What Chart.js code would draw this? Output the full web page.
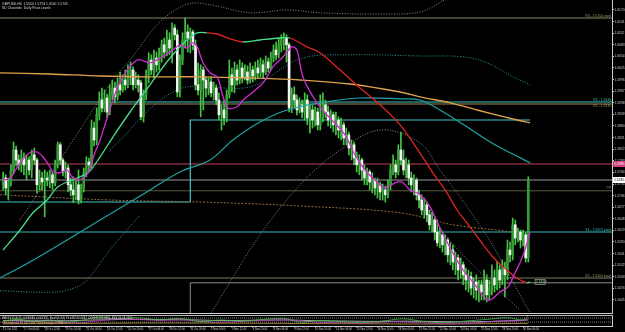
<!DOCTYPE html>
<html>
<head>
<meta charset="utf-8">
<title>GBPUSD,H4</title>
<script src="https://cdn.jsdelivr.net/npm/chart.js@4.4.1/dist/chart.umd.min.js"></script>
<style>
    html, body { margin: 0; padding: 0; background: #000; }
    #wrap { position: relative; width: 625px; height: 332px; background: #000; overflow: hidden; }
    #mainBox { position: absolute; left: 0; top: 0; width: 625px; height: 314px; }
    #indBox { position: absolute; left: 0; top: 314px; width: 625px; height: 18px; }
</style>
</head>
<body>
<div id="wrap">
    <div id="mainBox"><canvas id="mainChart" width="625" height="314"></canvas></div>
    <div id="indBox"><canvas id="indChart" width="625" height="18"></canvas></div>
</div>
<script>
// ---- data ----

// time axis labels, one every 8 H4 bars
const timeLabels = [
    '13 Oct 2011', '17 Oct 04:00', '18 Oct 12:00', '19 Oct 20:00', '21 Oct 04:00', '24 Oct 12:00',
    '25 Oct 20:00', '27 Oct 04:00', '28 Oct 12:00', '31 Oct 20:00', '2 Nov 04:00', '3 Nov 12:00',
    '4 Nov 20:00', '8 Nov 04:00', '9 Nov 12:00', '10 Nov 20:00', '14 Nov 04:00', '15 Nov 12:00',
    '16 Nov 20:00', '18 Nov 04:00', '21 Nov 12:00', '22 Nov 20:00', '24 Nov 04:00', '25 Nov 12:00',
    '28 Nov 20:00', '30 Nov 04:00'
];

// price axis labels
const priceTicks = [
    1.6170, 1.6141, 1.6112, 1.6083, 1.6054, 1.6025, 1.5996, 1.5967, 1.5938, 1.5909,
    1.5880, 1.5851, 1.5822, 1.5793, 1.5764, 1.5735, 1.5706, 1.5677, 1.5648, 1.5619,
    1.5590, 1.5561, 1.5532, 1.5503, 1.5474, 1.5445
];

// H4 candles: [open, high, low, close]
const candles = [
    [1.5733,1.5765,1.5720,1.5750],[1.5750,1.5758,1.5708,1.5725],[1.5725,1.5750,1.5695,1.5740],[1.5740,1.5783,1.5730,1.5770],
    [1.5770,1.5840,1.5760,1.5820],[1.5820,1.5830,1.5780,1.5795],[1.5795,1.5808,1.5770,1.5783],[1.5783,1.5820,1.5765,1.5800],
    [1.5800,1.5813,1.5758,1.5783],[1.5783,1.5808,1.5745,1.5795],[1.5795,1.5803,1.5758,1.5770],[1.5770,1.5820,1.5750,1.5808],
    [1.5808,1.5825,1.5783,1.5795],[1.5795,1.5800,1.5713,1.5733],[1.5733,1.5770,1.5720,1.5750],[1.5750,1.5765,1.5720,1.5740],
    [1.5740,1.5770,1.5653,1.5750],[1.5750,1.5765,1.5730,1.5745],[1.5745,1.5770,1.5725,1.5758],[1.5758,1.5765,1.5720,1.5738],
    [1.5738,1.5795,1.5730,1.5783],[1.5783,1.5840,1.5775,1.5833],[1.5833,1.5838,1.5783,1.5795],[1.5795,1.5800,1.5755,1.5765],
    [1.5765,1.5790,1.5750,1.5775],[1.5775,1.5783,1.5715,1.5733],[1.5733,1.5750,1.5705,1.5720],[1.5720,1.5753,1.5688,1.5708],
    [1.5708,1.5745,1.5695,1.5733],[1.5733,1.5770,1.5685,1.5695],[1.5695,1.5735,1.5688,1.5725],[1.5725,1.5775,1.5715,1.5765],
    [1.5765,1.5803,1.5753,1.5790],[1.5790,1.5800,1.5765,1.5783],[1.5783,1.5895,1.5775,1.5875],[1.5875,1.5890,1.5830,1.5845],
    [1.5845,1.5925,1.5833,1.5908],[1.5908,1.5965,1.5895,1.5945],[1.5945,1.5975,1.5915,1.5925],[1.5925,1.5970,1.5915,1.5950],
    [1.5950,1.5960,1.5900,1.5915],[1.5915,1.5983,1.5908,1.5958],[1.5958,1.5995,1.5945,1.5975],[1.5975,1.5990,1.5938,1.5953],
    [1.5953,1.6000,1.5945,1.5983],[1.5983,1.6015,1.5958,1.5970],[1.5970,1.6008,1.5965,1.5995],[1.5995,1.6020,1.5970,1.5983],
    [1.5983,1.6033,1.5975,1.6008],[1.6008,1.6040,1.5983,1.6020],[1.6020,1.6028,1.5970,1.5983],[1.5983,1.6015,1.5975,1.5995],
    [1.5995,1.6008,1.5965,1.5983],[1.5988,1.5995,1.5895,1.5903],[1.5903,1.5970,1.5890,1.5958],[1.5958,1.6020,1.5945,1.6008],
    [1.6008,1.6063,1.5988,1.6045],[1.6045,1.6058,1.6008,1.6020],[1.6020,1.6070,1.6000,1.6050],[1.6050,1.6065,1.6015,1.6033],
    [1.6033,1.6075,1.6020,1.6058],[1.6058,1.6095,1.6040,1.6083],[1.6083,1.6100,1.6050,1.6065],[1.6065,1.6120,1.6055,1.6095],
    [1.6095,1.6113,1.6058,1.6075],[1.6075,1.6138,1.6038,1.6125],[1.6125,1.6133,1.6095,1.6108],[1.6108,1.6120,1.5953,1.5965],
    [1.5965,1.6058,1.5953,1.6045],[1.6045,1.6113,1.6033,1.6095],[1.6095,1.6150,1.6075,1.6115],[1.6115,1.6133,1.6065,1.6100],
    [1.6100,1.6125,1.6063,1.6115],[1.6115,1.6120,1.6070,1.6083],[1.6083,1.6095,1.5970,1.5983],[1.5983,1.6038,1.5958,1.5970],
    [1.5970,1.6033,1.5903,1.6020],[1.6020,1.6028,1.5920,1.5995],[1.5995,1.6003,1.5953,1.5975],[1.5975,1.6000,1.5958,1.5990],
    [1.5990,1.6003,1.5953,1.5963],[1.5963,1.5990,1.5945,1.5975],[1.5975,1.5983,1.5933,1.5945],[1.5945,1.5963,1.5895,1.5908],
    [1.5908,1.5933,1.5870,1.5920],[1.5920,1.5945,1.5883,1.5900],[1.5900,1.5970,1.5890,1.5958],[1.5958,1.6045,1.5950,1.6008],
    [1.6008,1.6025,1.5965,1.5983],[1.5983,1.6040,1.5963,1.6020],[1.6020,1.6033,1.5983,1.5995],[1.5995,1.6045,1.5985,1.6025],
    [1.6025,1.6038,1.5988,1.6000],[1.6000,1.6033,1.5995,1.6015],[1.6015,1.6030,1.5985,1.5995],[1.5995,1.6038,1.5988,1.6020],
    [1.6020,1.6030,1.5990,1.6005],[1.6005,1.6040,1.5995,1.6025],[1.6025,1.6045,1.6000,1.6013],[1.6013,1.6050,1.6003,1.6033],
    [1.6033,1.6045,1.6000,1.6015],[1.6015,1.6055,1.6008,1.6040],[1.6040,1.6050,1.6015,1.6025],[1.6025,1.6065,1.6020,1.6050],
    [1.6050,1.6083,1.6040,1.6070],[1.6070,1.6090,1.6045,1.6058],[1.6058,1.6100,1.6050,1.6083],[1.6083,1.6108,1.6065,1.6095],
    [1.6095,1.6113,1.6070,1.6100],[1.6100,1.6108,1.6040,1.6083],[1.6083,1.6088,1.5915,1.5925],[1.5925,1.5975,1.5913,1.5958],
    [1.5958,1.5978,1.5925,1.5945],[1.5945,1.5958,1.5908,1.5920],[1.5920,1.5950,1.5913,1.5933],[1.5933,1.5945,1.5900,1.5915],
    [1.5915,1.5963,1.5895,1.5945],[1.5945,1.5958,1.5883,1.5900],[1.5900,1.5933,1.5863,1.5920],[1.5920,1.5933,1.5875,1.5895],
    [1.5895,1.5928,1.5880,1.5915],[1.5915,1.5925,1.5870,1.5883],[1.5883,1.5958,1.5870,1.5900],[1.5900,1.5963,1.5890,1.5933],
    [1.5933,1.5945,1.5900,1.5915],[1.5915,1.5930,1.5880,1.5895],[1.5895,1.5920,1.5875,1.5908],[1.5908,1.5915,1.5865,1.5883],
    [1.5883,1.5915,1.5858,1.5895],[1.5895,1.5903,1.5850,1.5870],[1.5870,1.5900,1.5845,1.5883],[1.5883,1.5890,1.5833,1.5850],
    [1.5850,1.5875,1.5833,1.5858],[1.5858,1.5865,1.5808,1.5825],[1.5825,1.5845,1.5795,1.5833],[1.5833,1.5840,1.5783,1.5800],
    [1.5800,1.5815,1.5765,1.5783],[1.5783,1.5808,1.5758,1.5795],[1.5795,1.5800,1.5745,1.5770],[1.5770,1.5783,1.5733,1.5750],
    [1.5750,1.5775,1.5733,1.5765],[1.5765,1.5770,1.5720,1.5740],[1.5740,1.5763,1.5713,1.5745],[1.5745,1.5750,1.5708,1.5725],
    [1.5725,1.5750,1.5700,1.5733],[1.5733,1.5740,1.5695,1.5715],[1.5715,1.5735,1.5695,1.5720],[1.5720,1.5730,1.5690,1.5708],
    [1.5708,1.5745,1.5700,1.5733],[1.5733,1.5783,1.5720,1.5770],[1.5770,1.5808,1.5758,1.5783],[1.5783,1.5795,1.5750,1.5765],
    [1.5765,1.5833,1.5758,1.5820],[1.5820,1.5865,1.5783,1.5795],[1.5795,1.5820,1.5758,1.5770],[1.5770,1.5800,1.5750,1.5783],
    [1.5783,1.5795,1.5733,1.5750],[1.5750,1.5765,1.5715,1.5733],[1.5733,1.5758,1.5708,1.5745],[1.5745,1.5750,1.5695,1.5708],
    [1.5708,1.5720,1.5675,1.5695],[1.5695,1.5708,1.5658,1.5670],[1.5670,1.5700,1.5650,1.5683],[1.5683,1.5690,1.5640,1.5658],
    [1.5658,1.5670,1.5620,1.5633],[1.5633,1.5665,1.5615,1.5645],[1.5645,1.5650,1.5595,1.5615],[1.5615,1.5645,1.5580,1.5588],
    [1.5588,1.5625,1.5575,1.5608],[1.5608,1.5615,1.5565,1.5583],[1.5583,1.5608,1.5558,1.5595],[1.5595,1.5600,1.5540,1.5558],
    [1.5558,1.5588,1.5533,1.5570],[1.5570,1.5583,1.5520,1.5540],[1.5540,1.5565,1.5508,1.5550],[1.5550,1.5558,1.5495,1.5520],
    [1.5520,1.5550,1.5500,1.5533],[1.5533,1.5540,1.5483,1.5508],[1.5508,1.5525,1.5470,1.5495],[1.5495,1.5520,1.5465,1.5503],
    [1.5503,1.5515,1.5458,1.5475],[1.5475,1.5500,1.5450,1.5490],[1.5490,1.5508,1.5445,1.5470],[1.5470,1.5495,1.5440,1.5483],
    [1.5483,1.5495,1.5445,1.5465],[1.5465,1.5520,1.5445,1.5495],[1.5495,1.5508,1.5440,1.5458],[1.5458,1.5495,1.5445,1.5475],
    [1.5475,1.5533,1.5458,1.5500],[1.5500,1.5520,1.5465,1.5483],[1.5483,1.5540,1.5470,1.5520],[1.5520,1.5533,1.5475,1.5495],
    [1.5495,1.5545,1.5483,1.5525],[1.5525,1.5540,1.5453,1.5508],[1.5508,1.5595,1.5495,1.5570],[1.5570,1.5590,1.5540,1.5558],
    [1.5558,1.5650,1.5545,1.5633],[1.5633,1.5645,1.5583,1.5600],[1.5600,1.5625,1.5590,1.5615],[1.5615,1.5620,1.5575,1.5595],
    [1.5595,1.5620,1.5580,1.5608],[1.5608,1.5615,1.5540,1.5550],[1.5550,1.5753,1.5540,1.5745]
];

// indicator lines: [bar, price]
const fastMa = [
    [0,1.5745],[2.7,1.5750],[6.5,1.5788],[10.3,1.5813],[13,1.5815],[15.3,1.5803],[18,1.5778],[19.2,1.5765],
    [21.9,1.5763],[24.6,1.5770],[26.5,1.5753],[28.4,1.5745],[30.7,1.5750],[32.7,1.5763],[35.3,1.5813],[37.3,1.5845],
    [40,1.5900],[45,1.5990],[51.5,1.6045],[56.5,1.6038],[60.3,1.6050],[65.3,1.6070],[68,1.6083],[70.7,1.6075],
    [72.7,1.6088],[74.6,1.6078],[76.9,1.6038],[79.6,1.6013],[82.3,1.6003],[84.6,1.5953],[86.5,1.5925],[90,1.5928],
    [92.3,1.5945],[96.1,1.5965],[100,1.5988],[103.8,1.6028],[107.7,1.6053],[111.1,1.6078],[113,1.6070],[115.3,1.6003],
    [119.2,1.5953],[121.9,1.5928],[125.7,1.5900],[131.5,1.5858],[135.3,1.5808],[139.2,1.5770],[143,1.5745],[146.9,1.5725],
    [150.7,1.5738],[153.4,1.5740],[156.5,1.5720],[160.3,1.5708],[164.2,1.5678],[168,1.5625],[173,1.5563],[176.9,1.5520],
    [180.7,1.5490],[185.3,1.5450],[187.3,1.5445],[191.1,1.5465],[194.2,1.5478],[196.9,1.5513],[198.8,1.5538],[200.7,1.5570],
    [202.7,1.5615]
];
const trendMa = [
    [0,1.5570],[6.5,1.5620],[11.5,1.5663],[16.9,1.5695],[21.1,1.5728],[28.4,1.5750],[32.7,1.5763],[37.3,1.5803],
    [42.3,1.5853],[48.8,1.5915],[56.5,1.5983],[64.2,1.6050],[70.7,1.6095],[74.6,1.6113],[78.4,1.6113],[82.3,1.6110],
    [87.3,1.6098],[92.3,1.6090],[98.8,1.6095],[106.5,1.6100],[110.3,1.6100],[116.9,1.6078],[121.9,1.6063],[129.6,1.6020],
    [137.3,1.5975],[145,1.5933],[152.7,1.5883],[160.3,1.5813],[165.3,1.5763],[170.7,1.5713],[174.6,1.5670],[178.4,1.5638],
    [183.3,1.5595],[188.3,1.5553],[193.7,1.5520],[197.5,1.5500],[201.5,1.5488],[202.7,1.5490]
];
const slowMa = [
    [-1.2,1.6013],[18,1.6010],[37.3,1.6005],[56.5,1.6003],[75.7,1.6003],[95,1.6000],[114.2,1.5995],[133.4,1.5985],
    [152.7,1.5965],[160.3,1.5953],[171.9,1.5938],[182.3,1.5920],[197.7,1.5895],[202.7,1.5888]
];
const midMa = [
    [-1.2,1.5500],[10.3,1.5540],[24.6,1.5595],[37.3,1.5645],[52.7,1.5705],[68,1.5765],[79.6,1.5795],[88.4,1.5845],
    [98.8,1.5890],[109.2,1.5920],[121.9,1.5938],[137.3,1.5950],[152.7,1.5948],[160.3,1.5945],[168,1.5920],[178.4,1.5878],
    [187.3,1.5840],[195,1.5813],[202.7,1.5788]
];
const bandUpper = [
    [6.5,1.5645],[21.9,1.5795],[42.3,1.5995],[48.8,1.6045],[60.3,1.6140],[71.1,1.6185],[79.6,1.6183],[95,1.6163],
    [109.2,1.6170],[121.9,1.6163],[145,1.6160],[160.3,1.6165],[169.2,1.6193],[175.7,1.6220]
];
const bandMid = [
    [41.1,1.5820],[66.9,1.5970],[95,1.5978],[114.2,1.6048],[133.4,1.6058],[160.3,1.6055],[176.9,1.6053],[186.1,1.6038],
    [196.1,1.6003],[202.7,1.5983]
];
const bandLowA = [[-1.2,1.5468],[20.7,1.5465],[28.4,1.5478],[32.3,1.5495],[41.1,1.5570],[52.7,1.5658]];
const bandLowB = [
    [78.8,1.5400],[87.3,1.5490],[98.8,1.5608],[114.2,1.5733],[129.6,1.5820],[145,1.5870],[160.3,1.5838],[168,1.5770],
    [175.7,1.5703],[184.6,1.5620],[191.1,1.5550],[198.8,1.5458],[202.7,1.5413]
];
const bandLowC = [[164.2,1.5670],[170.7,1.5603],[183.3,1.5515],[198.8,1.5420]];
const envelope = [
    [-1.2,1.5708],[41.1,1.5695],[75.7,1.5690],[114.2,1.5680],[152.7,1.5663],[173,1.5633],[197.7,1.5613],[202.7,1.5600]
];

// horizontal levels and their captions
const levels = [1.6150, 1.5940, 1.5935, 1.5785, 1.5745, 1.5718, 1.5615, 1.5500];
const levelCaptions = ['R3 - 1.6150 pivot', 'R2 - 1.5940', 'R1 - 1.5935', '', '', 'PP', 'S1 - 1.5615 pivot', 'S2 - 1.5500 pivot'];
const dayLevels = [1.5690, 1.5895];   // level before / after the switch bar
const dayLevelSwitchBar = 72;
const rangeLow = 1.5488;

// lower oscillator panel (0..100)
const oscGreen = [
    [0,45],[6,60],[12,40],[18,55],[24,35],[30,50],[36,80],[44,65],[52,75],[60,55],[68,70],[76,40],[84,55],[92,45],
    [100,60],[108,70],[114,35],[122,50],[130,40],[138,30],[146,45],[154,65],[162,40],[170,30],[178,45],[186,60],
    [194,75],[200,55],[202,95]
];
const oscMagenta = [
    [0,30],[10,40],[20,35],[30,30],[40,55],[50,60],[60,50],[70,55],[80,35],[90,40],[100,50],[110,55],[120,35],
    [130,30],[140,25],[150,40],[160,30],[170,20],[180,25],[190,45],[200,50],[202,70]
];
const oscWhite = [
    [0,50],[12,52],[24,48],[36,55],[48,60],[60,58],[72,56],[84,50],[96,52],[108,55],[120,48],[132,45],[144,42],
    [156,44],[168,40],[180,38],[192,45],[202,55]
];
const oscOrange = [[0,20],[20,22],[40,25],[60,28],[80,26],[100,25],[120,22],[140,20],[160,18],[180,20],[202,24]];
const oscLevels = [72, 36];

const headerLines = ['GBPUSD,H4  1.5550 1.5753 1.5540 1.5745', 'SD Channels  Daily Pivot Levels'];
const oscCaptions = [
    'MACD(12,26,9) -0.000946 -0.001352  Stoch(5,3,3) 73.5412 61.2087  CCI(14) 112.4851  RSI(14) 58.2310',
    'SPC Indicator 30 2011 and TrendStrength 1.2934'
];

// ---- layout / style ----
const X_MIN = -1.2;
const X_MAX = 234.2;
const Y_MIN = 1.5410;
const Y_MAX = 1.6195;
const FONT = "'Liberation Sans', sans-serif";

const BULL_FILL = '#349c34';
const BEAR_FILL = '#f4f4f4';
const WICK = '#47c447';
const levelColors = ['#8a8a62', '#3fbfbf', '#a08455', '#c0405e', '#9a9a9a', '#5c5c44', '#3ab8b8', '#7c7c66'];
const levelTextColors = ['#9a9a6a', '#3fc4c4', '#a89060', '', '', '#8a8a60', '#3fc4c4', '#9a9a6a'];

function pts(list) {
    return list.map(p => ({ x: p[0], y: p[1] }));
}

function lineSet(list, color, width, dash, order) {
    return {
        type: 'line',
        data: pts(list),
        borderColor: color,
        borderWidth: width,
        borderDash: dash || [],
        pointRadius: 0,
        tension: 0.35,
        fill: false,
        order: order
    };
}

function flatLine(value, color, order) {
    return {
        type: 'line',
        data: [{ x: X_MIN, y: value }, { x: X_MAX, y: value }],
        borderColor: color,
        borderWidth: 1,
        pointRadius: 0,
        tension: 0,
        order: order
    };
}

// Text drawn on the main chart: header, level captions, price tags
const mainOverlay = {
    id: 'mainOverlay',
    afterDraw(chart) {
        const { ctx, chartArea, scales } = chart;
        const y = scales.y;
        const x = scales.x;
        ctx.save();

        ctx.font = '3.4px ' + FONT;
        ctx.fillStyle = '#d8d8d8';
        ctx.textBaseline = 'top';
        ctx.textAlign = 'left';
        ctx.fillText(headerLines[0], 2, 2.5);
        ctx.fillText(headerLines[1], 2, 6.5);

        // level captions at the right edge
        ctx.textAlign = 'right';
        levelCaptions.forEach((t, i) => {
            if (!t) return;
            ctx.fillStyle = levelTextColors[i];
            const py = y.getPixelForValue(levels[i]);
            if (i === 2) {
                ctx.textBaseline = 'top';
                ctx.fillText(t, chartArea.right - 1, py + 0.8);
            } else {
                ctx.textBaseline = 'bottom';
                ctx.fillText(t, chartArea.right - 1, py - 0.6);
            }
        });

        // price tags on the axis
        const tag = (value, bg, fg) => {
            const py = Math.round(y.getPixelForValue(value));
            ctx.fillStyle = bg;
            ctx.fillRect(chartArea.right + 1, py - 3, 12, 6);
            ctx.fillStyle = fg;
            ctx.textAlign = 'left';
            ctx.textBaseline = 'middle';
            ctx.fillText(value.toFixed(4), chartArea.right + 2, py);
        };
        tag(levels[3], '#d0407a', '#ffffff');
        tag(candles[candles.length - 1][3], '#ffffff', '#000000');

        // small value box at the end of the trend average
        const last = trendMa[trendMa.length - 1];
        const bx = x.getPixelForValue(last[0]) + 5;
        const by = y.getPixelForValue(last[1]);
        ctx.strokeStyle = '#7a9a7a';
        ctx.lineWidth = 0.8;
        ctx.strokeRect(bx, by - 2.5, 10, 5);
        ctx.fillStyle = '#9fd09f';
        ctx.textAlign = 'left';
        ctx.textBaseline = 'middle';
        ctx.fillText(last[1].toFixed(4), bx + 0.8, by);

        // separator under the price panel
        ctx.strokeStyle = '#cfcfcf';
        ctx.lineWidth = 1;
        ctx.beginPath();
        ctx.moveTo(0, chartArea.bottom - 0.5);
        ctx.lineTo(chartArea.right, chartArea.bottom - 0.5);
        ctx.stroke();
        ctx.restore();
    }
};

const oscOverlay = {
    id: 'oscOverlay',
    afterDraw(chart) {
        const { ctx, chartArea } = chart;
        ctx.save();
        ctx.strokeStyle = '#bdbdbd';
        ctx.lineWidth = 1;
        ctx.beginPath();
        ctx.moveTo(0, chartArea.top + 0.5);
        ctx.lineTo(chartArea.right, chartArea.top + 0.5);
        ctx.stroke();
        ctx.font = '2.8px ' + FONT;
        ctx.textBaseline = 'top';
        ctx.textAlign = 'left';
        ctx.fillStyle = '#d6d6d6';
        ctx.fillText(oscCaptions[0], 2, chartArea.top + 2);
        ctx.fillStyle = '#d8b060';
        ctx.fillText(oscCaptions[1], 2, chartArea.top + 6.5);
        ctx.restore();
    }
};

// ---- main price chart ----
const wickData = candles.map((c, i) => ({ x: i, y: [c[2], c[1]] }));
const bodyData = candles.map((c, i) => ({ x: i, y: [c[0], c[3]] }));
const bodyColors = candles.map(c => (c[3] >= c[0] ? BULL_FILL : BEAR_FILL));

const trendSet = lineSet(trendMa, '#45e08a', 1.3, null, 2);
trendSet.segment = {
    borderColor: ctx => (ctx.p1.parsed.y >= ctx.p0.parsed.y ? '#45e08a' : '#e02424')
};

new Chart(document.getElementById('mainChart').getContext('2d'), {
    type: 'bar',
    data: {
        datasets: [
            ...levels.map((v, i) => flatLine(v, levelColors[i], 40)),
            {
                type: 'line',
                data: [
                    { x: X_MIN, y: dayLevels[0] }, { x: dayLevelSwitchBar, y: dayLevels[0] },
                    { x: dayLevelSwitchBar, y: dayLevels[1] }, { x: candles.length - 0.3, y: dayLevels[1] }
                ],
                borderColor: '#46c6c6', borderWidth: 1.2, pointRadius: 0, tension: 0, order: 35
            },
            {
                type: 'line',
                data: [{ x: dayLevelSwitchBar, y: Y_MIN }, { x: dayLevelSwitchBar, y: rangeLow }, { x: X_MAX, y: rangeLow }],
                borderColor: '#8c8c8c', borderWidth: 1, pointRadius: 0, tension: 0, order: 35
            },
            lineSet(envelope, '#8a6a44', 1, [2, 1.5], 30),
            lineSet(bandUpper, '#7f8f86', 1, [1, 1.6], 25),
            lineSet(bandMid, '#2a9c9c', 1, [1, 1.6], 25),
            lineSet(bandLowA, '#3a9c9c', 1, [1, 1.6], 25),
            lineSet(bandLowB, '#7f8f86', 1, [1, 1.6], 25),
            lineSet(bandLowC, '#6f8f86', 1, [1, 1.6], 25),
            {
                type: 'bar', data: wickData, backgroundColor: WICK, barThickness: 1,
                grouped: false, borderWidth: 0, order: 12
            },
            {
                type: 'bar', data: bodyData, backgroundColor: bodyColors, barThickness: 2,
                grouped: false, borderWidth: 0, minBarLength: 1, order: 11
            },
            lineSet(midMa, '#22a3a3', 1.2, null, 5),
            lineSet(slowMa, '#e0a24c', 1.3, null, 4),
            trendSet,
            lineSet(fastMa, '#d42ad4', 1.3, null, 1)
        ]
    },
    options: {
        responsive: false,
        animation: false,
        devicePixelRatio: 1,
        events: [],
        layout: { padding: 0 },
        plugins: { legend: { display: false }, tooltip: { enabled: false } },
        scales: {
            x: { type: 'linear', min: X_MIN, max: X_MAX, offset: false, display: false },
            y: {
                position: 'right',
                min: Y_MIN,
                max: Y_MAX,
                afterBuildTicks: s => { s.ticks = priceTicks.map(v => ({ value: v })); },
                afterFit: s => { s.width = 13; s.paddingTop = 0; s.paddingBottom = 0; },
                border: { color: '#c8c8c8', width: 1 },
                grid: { drawOnChartArea: false, tickLength: 2, color: '#c8c8c8' },
                ticks: {
                    color: '#cfcfcf',
                    padding: 0.5,
                    autoSkip: false,
                    font: { size: 3.3, family: FONT },
                    callback: v => v.toFixed(4)
                }
            }
        }
    },
    plugins: [mainOverlay]
});

// ---- oscillator panel with the time axis ----
new Chart(document.getElementById('indChart').getContext('2d'), {
    type: 'line',
    data: {
        datasets: [
            ...oscLevels.map(v => ({
                data: [{ x: X_MIN, y: v }, { x: X_MAX, y: v }],
                borderColor: '#9a9a9a', borderWidth: 0.8, borderDash: [1, 1], pointRadius: 0
            })),
            lineSet(oscOrange, '#c8a040', 0.8, null, 4),
            lineSet(oscWhite, '#cfcfcf', 0.8, null, 3),
            lineSet(oscMagenta, '#c030c0', 0.8, null, 2),
            lineSet(oscGreen, '#40c040', 0.8, null, 1)
        ]
    },
    options: {
        responsive: false,
        animation: false,
        devicePixelRatio: 1,
        events: [],
        layout: { padding: { top: 1 } },
        plugins: { legend: { display: false }, tooltip: { enabled: false } },
        scales: {
            x: {
                type: 'linear',
                min: X_MIN,
                max: X_MAX,
                offset: false,
                afterBuildTicks: s => { s.ticks = timeLabels.map((t, i) => ({ value: i * 8 })); },
                afterFit: s => { s.height = 6; s.paddingLeft = 0; s.paddingRight = 0; },
                border: { color: '#c8c8c8', width: 1 },
                grid: { drawOnChartArea: false, tickLength: 1.5, color: '#c8c8c8' },
                ticks: {
                    align: 'start',
                    autoSkip: false,
                    maxRotation: 0,
                    minRotation: 0,
                    padding: 0.3,
                    color: '#cfcfcf',
                    font: { size: 2.7, family: FONT },
                    callback: (v, i) => timeLabels[i]
                }
            },
            y: {
                position: 'right',
                min: 0,
                max: 100,
                afterFit: s => { s.width = 13; s.paddingTop = 0; s.paddingBottom = 0; },
                border: { color: '#c8c8c8', width: 1 },
                grid: { display: false },
                ticks: { display: false }
            }
        }
    },
    plugins: [oscOverlay]
});
</script>
</body>
</html>
